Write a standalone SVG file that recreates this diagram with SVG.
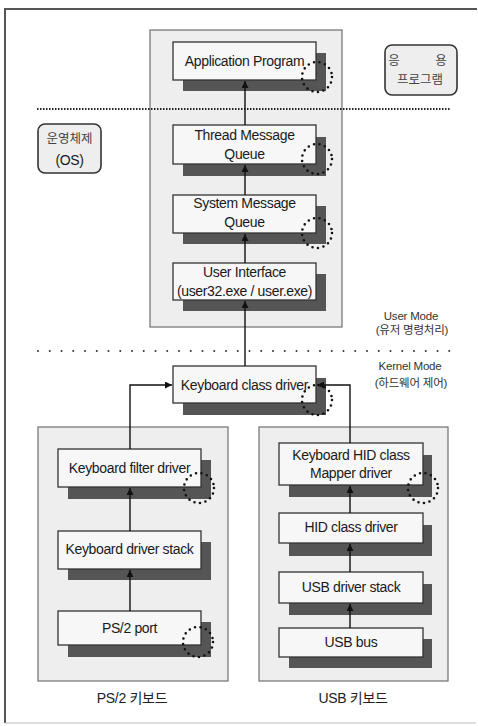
<svg xmlns="http://www.w3.org/2000/svg" width="478" height="726" viewBox="0 0 478 726">
  <defs>
    <marker id="arrow" viewBox="0 0 10 10" refX="10" refY="5" markerWidth="7" markerHeight="7" orient="auto" markerUnits="userSpaceOnUse">
      <path d="M0,0 L10,5 L0,10 z" fill="#111"/>
    </marker>
    <style>
      .frame { fill: none; stroke: #555; stroke-width: 2; }
      .panel { fill: #eeeeee; stroke: #707070; stroke-width: 1.2; }
      .box { fill: #f7f7f7; stroke: #333; stroke-width: 1.3; }
      .shadow { fill: #555; }
      .ring { fill: none; stroke: #111; stroke-width: 2.6; stroke-linecap: round; stroke-dasharray: 0 5.6; }
      .tag { fill: #eeeeee; stroke: #333; stroke-width: 1.6; }
      .label { font-family: "Liberation Sans", Arial, "Noto Sans CJK KR", sans-serif; font-size: 14px; letter-spacing: -0.35px; fill: #1a1a1a; text-anchor: middle; }
      .kr { font-family: "Liberation Sans", "Noto Sans CJK KR", sans-serif; font-size: 12.5px; fill: #444; text-anchor: middle; }
      .mode { font-family: "Liberation Sans", "Noto Sans CJK KR", sans-serif; font-size: 11.5px; letter-spacing: -0.2px; fill: #333; text-anchor: middle; }
      .caption { font-family: "Liberation Sans", "Noto Sans CJK KR", sans-serif; font-size: 14px; letter-spacing: -0.3px; fill: #222; text-anchor: middle; }
      .link { fill: none; stroke: #111; stroke-width: 1.4; }
    </style>
  </defs>

  <rect width="478" height="726" fill="#ffffff"/>

  <!-- outer frame (open on the right) -->
  <path class="frame" d="M477,9 H5 V723"/>
  <line x1="5" y1="723" x2="476" y2="723" stroke="#bbb" stroke-width="1"/>

  <!-- layer panels -->
  <rect id="os-panel" class="panel" x="150" y="30" width="192" height="297"/>
  <rect id="ps2-panel" class="panel" x="38" y="427" width="190" height="254"/>
  <rect id="usb-panel" class="panel" x="259" y="427" width="189" height="254"/>

  <!-- mode separators -->
  <line x1="37" y1="109" x2="451" y2="109" stroke="#222" stroke-width="2" stroke-dasharray="1.5 1.5"/>
  <line x1="38" y1="351" x2="451" y2="351" stroke="#333" stroke-width="2" stroke-linecap="round" stroke-dasharray="0 11.75"/>

  <!-- side tags -->
  <g id="tag-app">
    <rect class="tag" x="385" y="45" width="72" height="50" rx="7"/>
    <text class="kr" x="394" y="65">응</text>
    <text class="kr" x="441" y="65">용</text>
    <text class="kr" x="420" y="84">프로그램</text>
  </g>
  <g id="tag-os">
    <rect class="tag" x="38" y="124" width="63" height="49" rx="7"/>
    <text class="kr" x="69.5" y="143">운영체제</text>
    <text class="label" x="69.5" y="165">(OS)</text>
  </g>
  <g id="mode-labels">
    <text class="mode" x="411" y="320">User Mode</text>
    <text class="mode" x="412" y="334">(유저 명령처리)</text>
    <text class="mode" x="410" y="370">Kernel Mode</text>
    <text class="mode" x="411" y="387">(하드웨어 제어)</text>
  </g>

  <!-- OS nodes -->
  <g id="app-program">
    <rect class="shadow" x="183" y="53" width="143" height="38"/>
    <rect class="box" x="173" y="42" width="143" height="38"/>
    <text class="label" x="244.5" y="66">Application Program</text>
    <circle class="ring" cx="317" cy="77" r="15"/>
  </g>
  <g id="thread-queue">
    <rect class="shadow" x="183" y="137" width="143" height="39"/>
    <rect class="box" x="173" y="125" width="143" height="39"/>
    <text class="label" x="244.5" y="140">Thread Message</text>
    <text class="label" x="244.5" y="159">Queue</text>
    <circle class="ring" cx="317" cy="159" r="15"/>
  </g>
  <g id="system-queue">
    <rect class="shadow" x="183" y="206" width="143" height="38"/>
    <rect class="box" x="173" y="195" width="143" height="38"/>
    <text class="label" x="244.5" y="208">System Message</text>
    <text class="label" x="244.5" y="227">Queue</text>
    <circle class="ring" cx="317" cy="233" r="15"/>
  </g>
  <g id="user-interface">
    <rect class="shadow" x="183" y="274" width="143" height="37"/>
    <rect class="box" x="173" y="263" width="143" height="37"/>
    <text class="label" x="244.5" y="277">User Interface</text>
    <text class="label" x="244.5" y="296">(user32.exe / user.exe)</text>
  </g>

  <!-- kernel class driver -->
  <g id="keyboard-class-driver">
    <rect class="shadow" x="183" y="378" width="143" height="37"/>
    <rect class="box" x="173" y="366" width="143" height="37"/>
    <text class="label" x="244.5" y="390">Keyboard class driver</text>
    <circle class="ring" cx="317" cy="400" r="15"/>
  </g>

  <!-- PS/2 stack -->
  <g id="keyboard-filter-driver">
    <rect class="shadow" x="68" y="460" width="143" height="39"/>
    <rect class="box" x="58" y="449" width="143" height="38"/>
    <text class="label" x="129.5" y="473">Keyboard filter driver</text>
    <circle class="ring" cx="199" cy="488" r="15"/>
  </g>
  <g id="keyboard-driver-stack">
    <rect class="shadow" x="68" y="542" width="143" height="38"/>
    <rect class="box" x="58" y="531" width="143" height="38"/>
    <text class="label" x="129.5" y="554">Keyboard driver stack</text>
  </g>
  <g id="ps2-port">
    <rect class="shadow" x="68" y="622" width="143" height="35"/>
    <rect class="box" x="58" y="611" width="143" height="34"/>
    <text class="label" x="129.5" y="633">PS/2 port</text>
    <circle class="ring" cx="198" cy="642" r="15"/>
  </g>

  <!-- USB stack -->
  <g id="hid-mapper-driver">
    <rect class="shadow" x="289" y="455" width="143" height="42"/>
    <rect class="box" x="279" y="443" width="144" height="42"/>
    <text class="label" x="351" y="460">Keyboard HID class</text>
    <text class="label" x="351" y="478">Mapper driver</text>
    <circle class="ring" cx="423" cy="488" r="15"/>
  </g>
  <g id="hid-class-driver">
    <rect class="shadow" x="289" y="525" width="143" height="31"/>
    <rect class="box" x="279" y="513" width="144" height="30"/>
    <text class="label" x="351" y="532">HID class driver</text>
  </g>
  <g id="usb-driver-stack">
    <rect class="shadow" x="289" y="584" width="143" height="31"/>
    <rect class="box" x="279" y="572" width="144" height="31"/>
    <text class="label" x="351" y="592">USB driver stack</text>
  </g>
  <g id="usb-bus">
    <rect class="shadow" x="289" y="639" width="143" height="29"/>
    <rect class="box" x="279" y="628" width="144" height="29"/>
    <text class="label" x="351" y="647">USB bus</text>
  </g>

  <!-- panel captions -->
  <text class="caption" x="132" y="703">PS/2 키보드</text>
  <text class="caption" x="353" y="703">USB 키보드</text>

  <!-- connectors -->
  <g id="connectors">
    <line class="link" x1="245" y1="125" x2="245" y2="81" marker-end="url(#arrow)"/>
    <line class="link" x1="245" y1="195" x2="245" y2="165" marker-end="url(#arrow)"/>
    <line class="link" x1="245" y1="263" x2="245" y2="234" marker-end="url(#arrow)"/>
    <line class="link" x1="245" y1="366" x2="245" y2="301" marker-end="url(#arrow)"/>
    <path class="link" d="M130,449 V385 H172" marker-end="url(#arrow)"/>
    <path class="link" d="M350,443 V385 H317" marker-end="url(#arrow)"/>
    <line class="link" x1="130" y1="531" x2="130" y2="488" marker-end="url(#arrow)"/>
    <line class="link" x1="130" y1="611" x2="130" y2="570" marker-end="url(#arrow)"/>
    <line class="link" x1="350" y1="513" x2="350" y2="486" marker-end="url(#arrow)"/>
    <line class="link" x1="350" y1="572" x2="350" y2="544" marker-end="url(#arrow)"/>
    <line class="link" x1="350" y1="628" x2="350" y2="604" marker-end="url(#arrow)"/>
  </g>
</svg>
